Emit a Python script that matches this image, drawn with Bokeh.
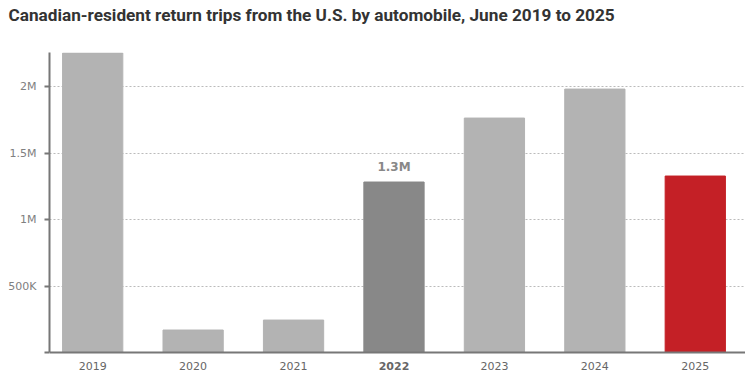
from bokeh.plotting import figure
from bokeh.models import Range1d, FixedTicker, ColumnDataSource, Span, Title
from bokeh.core.properties import value
from bokeh.embed import file_html
from bokeh.resources import INLINE

years = ["2019", "2020", "2021", "2022", "2023", "2024", "2025"]
trips = [2252000, 169000, 244000, 1282000, 1763000, 1981000, 1327000]
colors = ["#b3b3b3", "#b3b3b3", "#b3b3b3", "#888888", "#b3b3b3", "#b3b3b3", "#c42026"]
y_ticks = [0, 500000, 1000000, 1500000, 2000000]
y_tick_labels = ["", "500K", "1M", "1.5M", "2M"]
highlight = "2022"

xs = list(range(len(years)))
styles = ["bold" if y == highlight else "normal" for y in years]
src = ColumnDataSource(dict(x=xs, top=trips, color=colors, year=years, style=styles))

y_top = 2256000
p = figure(width=745, height=379, output_backend="svg", toolbar_location=None,
           x_range=Range1d(-0.43, 6.5), y_range=Range1d(-203000, y_top),
           x_axis_location=None,
           min_border_left=49, min_border_right=0, min_border_bottom=0, min_border_top=0)
p.outline_line_color = None
p.background_fill_color = "white"
p.border_fill_color = "white"

p.title.text = "Canadian-resident return trips from the U.S. by automobile, June 2019 to 2025"
p.title.text_font = "Roboto"
p.title.text_font_style = "bold"
p.title.text_font_size = "17.2px"
p.title.text_color = "#333333"
p.title.offset = -41
p.title.standoff = 4

# empty spacer between title and plot frame
p.add_layout(Title(text=" ", text_font_size="1px", standoff=23), "above")

p.xgrid.grid_line_color = None
p.ygrid.ticker = FixedTicker(ticks=y_ticks[1:])
p.ygrid.grid_line_color = "#bbbbbb"
p.ygrid.grid_line_dash = "2 2"
p.ygrid.grid_line_width = 1

p.vbar(x="x", top="top", bottom=0, width=0.6, color="color", source=src)

# x axis line and year labels
p.add_layout(Span(location=0, dimension="width", line_color="#777777", line_width=2))
p.text(x="x", y=0, text="year", source=src, text_align="center", text_baseline="top",
       y_offset=9, text_font=value("DejaVu Sans"), text_font_style="style",
       text_font_size="11px", text_color="#666666")

# value label on highlighted bar
hi = years.index(highlight)
p.text(x=[hi], y=[trips[hi]], text=[f"{trips[hi]/1e6:.1f}M"], text_align="center",
       text_baseline="bottom", y_offset=-8, text_font=value("DejaVu Sans"),
       text_font_style="bold", text_font_size="12px", text_color="#888888")

# y axis
yax = p.yaxis[0]
yax.bounds = (0, y_top)
yax.ticker = FixedTicker(ticks=y_ticks)
yax.major_label_overrides = {t: l for t, l in zip(y_ticks, y_tick_labels)}
yax.axis_line_color = "#777777"
yax.axis_line_width = 2
yax.major_tick_line_color = "#777777"
yax.major_tick_line_width = 2
yax.major_tick_out = 5
yax.major_tick_in = 0
yax.minor_tick_line_color = None
yax.major_label_standoff = 8
yax.major_label_text_font = "DejaVu Sans"
yax.major_label_text_font_size = "11px"
yax.major_label_text_color = "#808080"

open("out.html", "w").write(file_html(p, INLINE))
